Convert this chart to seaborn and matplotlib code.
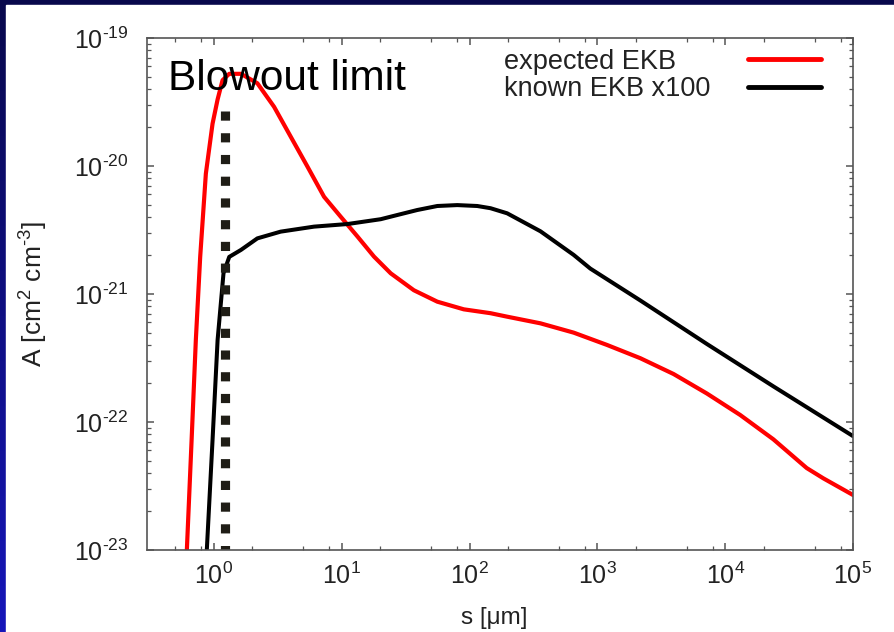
import numpy as np
import matplotlib
matplotlib.use("Agg")
import matplotlib.pyplot as plt
import seaborn as sns
from matplotlib.patches import Rectangle
from matplotlib.ticker import LogLocator, NullFormatter, FuncFormatter

# expected EKB curve
s_expected = [0.615, 0.670, 0.723, 0.782, 0.866, 0.977, 1.07, 1.17, 1.32, 1.63,
              2.19, 2.96, 4.00, 5.40, 7.28, 9.82, 13.3, 17.9, 24.2, 36.7,
              56.0, 90.2, 146, 197, 359, 653, 1190, 2170, 3950, 7190,
              13100, 23800, 43400, 58600, 1.0e5]
A_expected = [1.0e-23, 7.24e-23, 4.37e-22, 1.95e-21, 8.71e-21, 2.14e-20, 3.31e-20, 4.68e-20, 5.25e-20, 5.25e-20,
              4.43e-20, 2.90e-20, 1.69e-20, 9.89e-21, 5.75e-21, 4.02e-21, 2.81e-21, 1.96e-21, 1.45e-21, 1.07e-21,
              8.71e-22, 7.59e-22, 7.08e-22, 6.65e-22, 5.90e-22, 4.99e-22, 4.0e-22, 3.15e-22, 2.37e-22, 1.67e-22,
              1.135e-22, 7.33e-23, 4.37e-23, 3.63e-23, 2.69e-23]

# known EKB x100 curve
s_known = [0.881, 0.977, 1.07, 1.19, 1.32, 1.63, 2.19, 3.33, 6.08, 11.1,
           20.2, 27.2, 39.0, 56.0, 80.2, 115, 146, 197, 359, 653,
           881, 2170, 7190, 23800, 1.0e5]
A_known = [1.0e-23, 7.24e-23, 4.37e-22, 1.45e-21, 1.95e-21, 2.21e-21, 2.72e-21, 3.07e-21, 3.36e-21, 3.52e-21,
           3.84e-21, 4.14e-21, 4.53e-21, 4.87e-21, 4.95e-21, 4.87e-21, 4.68e-21, 4.27e-21, 3.09e-21, 2.02e-21,
           1.58e-21, 8.9e-22, 4.07e-22, 1.9e-22, 7.76e-23]

# blowout limit marker
s_blowout = [1.23, 1.23]
A_blowout = [2.7e-20, 1.0e-23]

sns.set_theme(style="ticks")
plt.rcParams['font.family'] = ['Liberation Sans', 'DejaVu Sans']
plt.rcParams['mathtext.fontset'] = 'custom'
plt.rcParams['mathtext.rm'] = 'Liberation Sans'
plt.rcParams['mathtext.it'] = 'Liberation Sans:italic'
plt.rcParams['mathtext.bf'] = 'Liberation Sans:bold'
plt.rcParams['axes.unicode_minus'] = False

HYPHEN = '\u2010'

fig = plt.figure(figsize=(8.94, 6.32), dpi=100)

# slide background: blue gradient frame with a white panel
bg = fig.add_axes([0, 0, 1, 1], zorder=-10)
grad = np.linspace(0, 1, 256).reshape(-1, 1)
bg.imshow(grad, aspect='auto', extent=[0, 1, 0, 1], origin='upper',
          cmap=matplotlib.colors.LinearSegmentedColormap.from_list('frame', ['#08084c', '#1616ba']))
bg.add_patch(Rectangle((6 / 894, 0), 1, (632 - 5) / 632, color='white', zorder=2))
bg.set_xlim(0, 1)
bg.set_ylim(0, 1)
bg.axis('off')

ax = fig.add_axes([147 / 894, 82 / 632, 706 / 894, 512 / 632])
ax.set_facecolor('white')

sns.lineplot(x=s_expected, y=A_expected, color='#ff0000', lw=3, ax=ax,
             estimator=None, sort=False, label='expected EKB')
sns.lineplot(x=s_known, y=A_known, color='black', lw=2.9, ax=ax,
             estimator=None, sort=False, label='known EKB x100')
sns.lineplot(x=s_blowout, y=A_blowout, color='#1f1d16', lw=6.6, ax=ax,
             estimator=None, sort=False, legend=False,
             linestyle=(0, (1.0, 1.37)), solid_capstyle='butt', dash_capstyle='butt')

ax.set_xscale('log')
ax.set_yscale('log')
ax.set_xlim(0.3, 1e5)
ax.set_ylim(1e-23, 1e-19)


def pow10(v, pos):
    e = int(round(np.log10(v)))
    es = str(e).replace('-', HYPHEN)
    return '$\\mathdefault{10^{%s}}$' % es


ax.xaxis.set_major_locator(LogLocator(base=10, numticks=20))
ax.xaxis.set_minor_locator(LogLocator(base=10, subs=[2, 5, 8], numticks=20))
ax.yaxis.set_major_locator(LogLocator(base=10, numticks=20))
ax.yaxis.set_minor_locator(LogLocator(base=10, subs=np.arange(2, 10), numticks=20))
ax.xaxis.set_major_formatter(FuncFormatter(pow10))
ax.yaxis.set_major_formatter(FuncFormatter(pow10))
ax.xaxis.set_minor_formatter(NullFormatter())
ax.yaxis.set_minor_formatter(NullFormatter())

for sp in ax.spines.values():
    sp.set_color('#555555')
    sp.set_linewidth(1.2)
ax.tick_params(which='both', direction='in', top=True, right=True, colors='#555555',
               labelcolor='#222222')
ax.tick_params(which='major', length=5, width=1.1, labelsize=18)
ax.tick_params(axis='y', which='major', pad=13)
ax.tick_params(axis='x', which='major', pad=9)
ax.tick_params(which='minor', length=3, width=0.9)

ax.set_xlabel('s [\u03bcm]', fontsize=17.5, color='#222222')
ax.set_ylabel('A [cm$^{\\mathdefault{2}}$ cm$^{\\mathdefault{%s3}}$]' % HYPHEN,
              fontsize=19, color='#222222')
ax.xaxis.set_label_coords(0.4915, -0.111)
ax.yaxis.set_label_coords(-0.137, 0.5)

ax.text(0.03, 0.898, 'Blowout limit', transform=ax.transAxes, fontsize=30.5,
        ha='left', va='baseline', color='black')

handles, labels = ax.get_legend_handles_labels()
leg = ax.legend(handles=handles, labels=labels, loc='upper right',
                bbox_to_anchor=((821 - 147) / 706, 0.979), frameon=False,
                markerfirst=False, fontsize=19.5, handlelength=2.7,
                handletextpad=1.4, labelspacing=0.05, borderpad=0, borderaxespad=0)
for t in leg.get_texts():
    t.set_color('#222222')
for h in leg.get_lines():
    h.set_linewidth(3.5)

# gnuplot-style key: texts left-aligned, samples right-aligned
fig.canvas.draw()
renderer = fig.canvas.get_renderer()
entries = [e for col in leg._legend_handle_box.get_children() for e in col.get_children()]
W = max(e.get_bbox(renderer).width for e in entries)
for e in entries:
    e.mode = 'expand'
    e.width = W

fig.savefig('out.png', dpi=100)
